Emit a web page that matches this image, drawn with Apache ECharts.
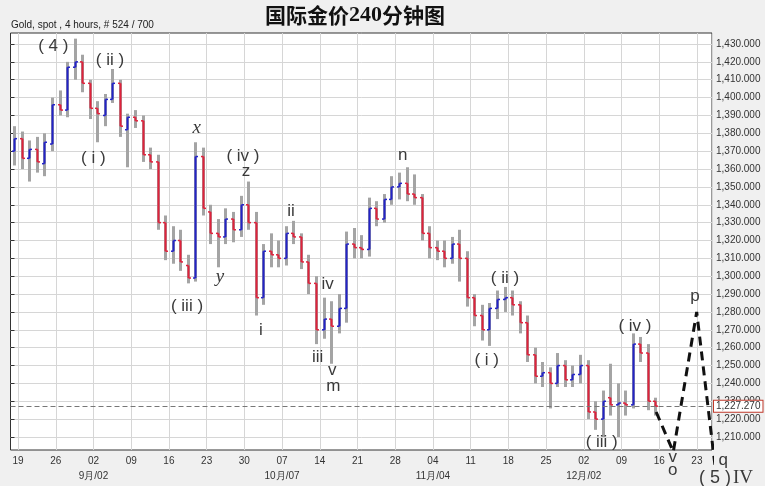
<!DOCTYPE html>
<html>
<head>
<meta charset="utf-8">
<title>国际金价240分钟图</title>
<script src="https://cdn.jsdelivr.net/npm/echarts@6/dist/echarts.min.js"></script>
<style>
  html, body { margin: 0; padding: 0; background: #f0f0f0; }
  #chart { width: 765px; height: 486px; }
</style>
</head>
<body>
<div id="chart"></div>
<script>
// gold spot, one bar per trading day (2013-08-16 .. 2013-12-13)
const openPrices = [
  1370, 1377, 1366, 1371, 1363, 1374, 1396, 1393, 1417, 1420,
  1408, 1394, 1390, 1399, 1408, 1382, 1389, 1387, 1368, 1364,
  1330, 1314, 1320, 1306, 1299, 1367, 1336, 1324, 1322, 1332,
  1326, 1340, 1330, 1288, 1314, 1312, 1310, 1324, 1322, 1308,
  1296, 1270, 1276, 1272, 1282, 1318, 1316, 1315, 1338, 1332,
  1343, 1350, 1352, 1346, 1344, 1324, 1316, 1314, 1310, 1318,
  1310, 1288, 1278, 1270, 1282, 1287, 1288, 1284, 1274, 1256,
  1244, 1246, 1240, 1250, 1242, 1245, 1250, 1224, 1220, 1232,
  1228, 1229, 1228, 1262, 1257, 1230
];
const highPrices = [
  1384, 1381, 1376, 1378, 1380, 1400, 1404, 1420, 1433, 1424,
  1410, 1398, 1402, 1416, 1410, 1391, 1393, 1390, 1372, 1368,
  1334, 1328, 1326, 1312, 1375, 1372, 1340, 1332, 1338, 1336,
  1345, 1353, 1336, 1318, 1324, 1320, 1328, 1331, 1324, 1312,
  1300, 1288, 1286, 1290, 1325, 1327, 1323, 1344, 1342, 1346,
  1356, 1358, 1361, 1357, 1346, 1328, 1320, 1320, 1322, 1326,
  1314, 1290, 1284, 1285, 1292, 1294, 1292, 1286, 1278, 1260,
  1252, 1249, 1257, 1253, 1250, 1256, 1253, 1230, 1236, 1251,
  1240, 1236, 1268, 1266, 1262, 1232
];
const lowPrices = [
  1362, 1360, 1353, 1358, 1356, 1370, 1390, 1389, 1410, 1403,
  1388, 1375, 1384, 1397, 1378, 1361, 1383, 1364, 1360, 1326,
  1309, 1307, 1303, 1296, 1297, 1334, 1318, 1305, 1318, 1319,
  1322, 1326, 1278, 1284, 1305, 1305, 1306, 1318, 1304, 1290,
  1262, 1265, 1251, 1268, 1274, 1310, 1310, 1311, 1328, 1330,
  1340, 1343, 1342, 1340, 1320, 1310, 1309, 1305, 1307, 1297,
  1283, 1272, 1264, 1261, 1276, 1280, 1278, 1268, 1252, 1240,
  1238, 1226, 1238, 1238, 1238, 1240, 1220, 1214, 1210, 1222,
  1210, 1222, 1226, 1252, 1225, 1222
];
const closePrices = [
  1377, 1366, 1371, 1364, 1375, 1396, 1393, 1417, 1420, 1408,
  1394, 1391, 1399, 1408, 1384, 1389, 1387, 1368, 1364, 1330,
  1314, 1320, 1308, 1299, 1367, 1338, 1324, 1322, 1332, 1326,
  1340, 1330, 1288, 1314, 1312, 1310, 1324, 1322, 1308, 1296,
  1270, 1276, 1272, 1282, 1318, 1316, 1315, 1338, 1332, 1343,
  1350, 1352, 1346, 1344, 1324, 1316, 1314, 1310, 1318, 1310,
  1288, 1278, 1270, 1282, 1287, 1288, 1284, 1274, 1256, 1244,
  1246, 1240, 1250, 1242, 1245, 1250, 1224, 1220, 1230, 1228,
  1229, 1228, 1262, 1257, 1230, 1227.27
];
const lastPrice = 1227.27;

// Elliott wave labels: position in trading days from the left edge, price level
const waveText = ['( 4 )', '( ii )', '( i )', 'x', '( iv )', 'z', '( iii )', 'y',
  'ii', 'i', 'iv', 'iii', 'v', 'm', 'n', '( ii )', '( i )', '( iii )', '( iv )',
  'p', 'v', 'o', 'q', '( 5 )', 'IV'];
const waveDay = [5.67, 13.19, 10.98, 24.69, 30.82, 31.22, 23.4, 27.77,
  37.19, 33.21, 42.05, 40.73, 42.66, 42.79, 52.0, 65.56, 63.13, 78.38, 82.79,
  90.75, 87.79, 87.79, 94.5, 93.4, 97.1];
const wavePrice = [1428.6, 1421, 1366, 1382.8, 1366.9, 1358.9, 1283.3, 1299.7,
  1336.1, 1269.9, 1295.6, 1254.4, 1247.5, 1238.1, 1367.8, 1298.8, 1253.1, 1206.8, 1271.7,
  1288.5, 1198.9, 1191.5, 1197.1, 1187, 1187];

// forecast path (dashed)
const forecastDay = [85.6, 87.87, 90.97, 93.4];
const forecastPrice = [1224, 1201.7, 1280, 1194];

// trading-day categories, 2013-08-16 .. 2013-12-24
const days = [];
for (let d = new Date(Date.UTC(2013, 7, 16)); d <= new Date(Date.UTC(2013, 11, 24)); d.setUTCDate(d.getUTCDate() + 1)) {
  const wd = d.getUTCDay();
  if (wd !== 0 && wd !== 6) days.push(d.toISOString().slice(0, 10));
}

const UP = '#2323c8';
const DOWN = '#e0223c';

function isMonday(s) {
  return new Date(s + 'T00:00:00Z').getUTCDay() === 1;
}
function dayLabel(s) {
  const dd = s.slice(8, 10);
  const dt = new Date(s + 'T00:00:00Z');
  if (dt.getUTCDate() <= 7) return dd + '\n' + (dt.getUTCMonth() + 1) + '月/' + dd;
  return dd;
}
function priceFmt(v) {
  return v.toLocaleString('en-US', { minimumFractionDigits: 3, maximumFractionDigits: 3 });
}

const chart = echarts.init(document.getElementById('chart'));

chart.setOption({
  backgroundColor: '#f0f0f0',
  animation: false,
  title: [
    {
      text: '{a|国际金价}{b|240}{a|分钟图}',
      left: 265, top: 4, padding: 0,
      textStyle: {
        rich: {
          a: { fontFamily: 'Noto Sans CJK SC', fontSize: 21, fontWeight: 'bold', color: '#111' },
          b: { fontFamily: 'Liberation Serif', fontSize: 22, fontWeight: 'bold', color: '#111' }
        }
      }
    },
    {
      text: 'Gold, spot , 4 hours, # 524 / 700',
      left: 11, top: 20, padding: 0,
      textStyle: { fontFamily: 'Liberation Sans', fontSize: 10, fontWeight: 'normal', color: '#222' }
    }
  ],
  grid: [
    { left: 10.5, right: 53, top: 33, bottom: 36, show: true, backgroundColor: '#fff', borderColor: '#333', borderWidth: 1 },
    { left: 10.5, right: 53, top: 44, bottom: 49, show: false }
  ],
  xAxis: [
    {
      type: 'category', gridIndex: 0, data: days, boundaryGap: true,
      axisLine: { show: false }, axisTick: { show: false },
      splitLine: { show: true, interval: (i, v) => isMonday(v), lineStyle: { color: '#d6d6d6' } },
      axisLabel: {
        interval: (i, v) => isMonday(v), formatter: dayLabel,
        fontFamily: 'Liberation Sans', fontSize: 10, color: '#333', lineHeight: 15, margin: 4,
        padding: [0, 7.5, 0, 0]
      }
    },
    { type: 'value', gridIndex: 0, min: 0, max: days.length, show: false },
    { type: 'value', gridIndex: 1, min: 0, max: 1, show: false }
  ],
  yAxis: [
    { type: 'value', gridIndex: 0, min: 1202.72, max: 1436.16, show: false },
    {
      type: 'value', gridIndex: 1, position: 'right', min: 1210, max: 1430, interval: 10,
      axisLine: { show: false },
      axisTick: { show: true, length: 4, lineStyle: { color: '#333' } },
      axisLabel: { formatter: priceFmt, fontFamily: 'Liberation Sans', fontSize: 10, color: '#333', margin: 4 },
      splitLine: { show: true, lineStyle: { color: '#d6d6d6' } }
    }
  ],
  series: [
    {
      type: 'custom', xAxisIndex: 0, yAxisIndex: 0,
      data: openPrices.map((o, i) => [i, o, highPrices[i], lowPrices[i], closePrices[i]]),
      encode: { x: 0, y: [1, 2, 3, 4] },
      renderItem: function (params, api) {
        const i = api.value(0);
        const o = api.value(1), h = api.value(2), l = api.value(3), c = api.value(4);
        const pO = api.coord([i, o]), pH = api.coord([i, h]);
        const pL = api.coord([i, l]), pC = api.coord([i, c]);
        const x = Math.round(pO[0]) + 0.5;
        const col = c >= o ? UP : DOWN;
        return {
          type: 'group',
          children: [
            { type: 'line', shape: { x1: x, y1: pH[1], x2: x, y2: pL[1] }, style: { stroke: '#a4a4a4', lineWidth: 3 } },
            { type: 'line', shape: { x1: x, y1: pO[1], x2: x, y2: pC[1] }, style: { stroke: col, lineWidth: 2 } },
            { type: 'line', shape: { x1: x - 2.5, y1: pO[1], x2: x, y2: pO[1] }, style: { stroke: col, lineWidth: 1.5 } },
            { type: 'line', shape: { x1: x, y1: pC[1], x2: x + 2.5, y2: pC[1] }, style: { stroke: col, lineWidth: 1.5 } }
          ]
        };
      }
    },
    {
      type: 'line', xAxisIndex: 1, yAxisIndex: 0, clip: false, z: 5,
      data: forecastDay.map((d, i) => [d, forecastPrice[i]]),
      symbol: 'none',
      lineStyle: { color: '#111', width: 3, type: [9, 6] },
      markLine: {
        silent: true, symbol: 'none',
        lineStyle: { color: '#777', width: 1, type: [5, 3] },
        label: {
          position: 'end', distance: 2, formatter: () => priceFmt(lastPrice),
          fontFamily: 'Liberation Sans', fontSize: 10, color: '#333',
          backgroundColor: '#fff', borderColor: '#c0392b', borderWidth: 1, padding: [1, 2, 0, 2]
        },
        data: [{ yAxis: lastPrice }]
      }
    },
    {
      type: 'custom', xAxisIndex: 1, yAxisIndex: 0, z: 6,
      data: waveDay.map((d, i) => [d, wavePrice[i]]),
      renderItem: function (params, api) {
        const p = api.coord([api.value(0), api.value(1)]);
        const t = waveText[params.dataIndex];
        let font = '17px "Liberation Sans"';
        if (t === 'x' || t === 'y') font = 'italic 19px "Liberation Serif"';
        if (t === 'IV') font = '19px "Liberation Serif"';
        if (t === '( 5 )') font = '18px "Liberation Sans"';
        return {
          type: 'text', x: p[0], y: p[1],
          style: { text: t, font: font, fill: '#3a3a3a', align: 'center', verticalAlign: 'middle' }
        };
      }
    }
  ]
});
</script>
</body>
</html>
